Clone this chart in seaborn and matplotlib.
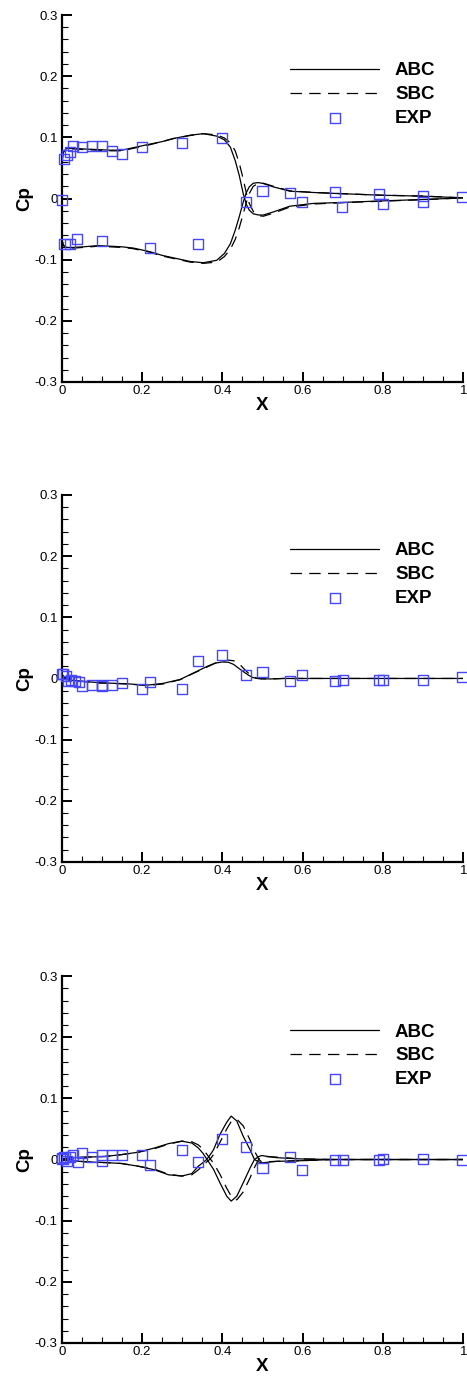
import matplotlib
matplotlib.use("Agg")
import matplotlib.pyplot as plt
from matplotlib.ticker import MultipleLocator
import seaborn as sns

# ---- surface pressure coefficient, three span stations ----
# station 1 (upper and lower surfaces share the x stations)
p1_x = [0, 0.001, 0.004, 0.012, 0.03, 0.054, 0.09, 0.12, 0.15, 0.178, 0.22, 0.25,
        0.278, 0.32, 0.353, 0.386, 0.405, 0.42, 0.432, 0.442, 0.452, 0.46, 0.467,
        0.477, 0.49, 0.502, 0.527, 0.568, 0.627, 0.693, 0.793, 0.9, 1.0]
p1_up_abc = [0, 0.063, 0.076, 0.082, 0.082, 0.081, 0.080, 0.079, 0.079, 0.083, 0.089, 0.093,
             0.098, 0.1035, 0.106, 0.102, 0.096, 0.084, 0.062, 0.038, 0.008, -0.010, -0.019,
             -0.025, -0.027, -0.027, -0.022, -0.0126, -0.008, -0.0066, -0.004, -0.0016, 0.001]
p1_up_sbc = [0, 0.062, 0.075, 0.081, 0.081, 0.080, 0.079, 0.078, 0.078, 0.082, 0.088, 0.093,
             0.098, 0.103, 0.106, 0.104, 0.099, 0.091, 0.078, 0.058, 0.032, 0.008, -0.008,
             -0.021, -0.028, -0.029, -0.024, -0.014, -0.009, -0.007, -0.0045, -0.002, 0.001]
p1_lo_abc = [0, -0.068, -0.076, -0.080, -0.080, -0.079, -0.077, -0.078, -0.079, -0.081, -0.087, -0.093,
             -0.097, -0.103, -0.105, -0.101, -0.090, -0.074, -0.052, -0.030, -0.006, 0.010, 0.019,
             0.025, 0.026, 0.0245, 0.019, 0.012, 0.0098, 0.008, 0.0054, 0.0038, 0.001]
p1_lo_sbc = [0, -0.068, -0.077, -0.081, -0.081, -0.080, -0.078, -0.079, -0.080, -0.082, -0.088, -0.094,
             -0.098, -0.104, -0.106, -0.104, -0.095, -0.083, -0.067, -0.048, -0.025, -0.006, 0.008,
             0.020, 0.025, 0.025, 0.020, 0.0125, 0.010, 0.008, 0.0055, 0.004, 0.001]
p1_exp_x = [0.0, 0.006, 0.012, 0.021, 0.027, 0.05, 0.075, 0.10, 0.125, 0.149, 0.199, 0.299, 0.399,
            0.007, 0.021, 0.039, 0.10, 0.219, 0.339, 0.459, 0.50, 0.569, 0.599, 0.68, 0.699,
            0.789, 0.80, 0.9, 0.9, 0.998]
p1_exp_y = [-0.003, 0.064, 0.071, 0.076, 0.086, 0.084, 0.086, 0.086, 0.078, 0.073, 0.084, 0.091, 0.099,
            -0.075, -0.075, -0.067, -0.069, -0.081, -0.074, -0.006, 0.012, 0.009, -0.006, 0.010, -0.014,
            0.007, -0.009, 0.004, -0.005, 0.002]

# station 2 (both surfaces coincide)
p2_x = [0, 0.004, 0.012, 0.025, 0.046, 0.095, 0.162, 0.212, 0.253, 0.295, 0.33, 0.363, 0.382,
        0.4, 0.415, 0.428, 0.442, 0.455, 0.466, 0.476, 0.486, 0.496, 0.52, 0.552, 0.7, 0.85, 1.0]
p2_abc = [0.0065, 0.004, -0.0016, -0.003, -0.0043, -0.007, -0.0087, -0.011, -0.008, -0.0016, 0.0095, 0.020,
          0.025, 0.027, 0.0265, 0.023, 0.016, 0.010, 0.005, 0.0015, 0.0, -0.0005, -0.0008, 0, 0, 0, 0]
p2_sbc = [0.0065, 0.004, -0.0016, -0.003, -0.0045, -0.0075, -0.009, -0.0115, -0.009, -0.002, 0.009, 0.019,
          0.025, 0.028, 0.030, 0.029, 0.024, 0.015, 0.008, 0.003, 0.0005, -0.0005, -0.0008, 0, 0, 0, 0]
p2_exp_x = [0.0, 0.004, 0.01, 0.015, 0.022, 0.033, 0.043, 0.05, 0.075, 0.10, 0.10, 0.125, 0.149,
            0.199, 0.22, 0.299, 0.339, 0.40, 0.459, 0.50, 0.569, 0.599, 0.68, 0.70, 0.79, 0.80,
            0.9, 0.998]
p2_exp_y = [0.0065, 0.008, 0.004, -0.004, -0.002, -0.004, -0.006, -0.013, -0.01, -0.011, -0.013, -0.011,
            -0.007, -0.017, -0.006, -0.017, 0.028, 0.039, 0.005, 0.011, -0.004, 0.005, -0.004, -0.003,
            -0.002, -0.002, -0.002, 0.002]

# station 3
p3_x = [0, 0.025, 0.066, 0.108, 0.149, 0.191, 0.232, 0.266, 0.299, 0.324, 0.34, 0.352, 0.361,
        0.37, 0.378, 0.394, 0.411, 0.422, 0.436, 0.452, 0.469, 0.48, 0.491, 0.498, 0.535,
        0.593, 0.676, 0.8, 0.9, 1.0]
p3_up_abc = [0.001, 0.003, 0.004, 0.005, 0.008, 0.012, 0.019, 0.026, 0.030, 0.027, 0.019, 0.010, 0.001,
             -0.008, -0.016, -0.038, -0.060, -0.068, -0.060, -0.038, -0.014, 0.0, 0.005, 0.0065, 0.003,
             0.001, 0, 0, 0, 0]
p3_up_sbc = [0.001, 0.003, 0.004, 0.005, 0.008, 0.012, 0.018, 0.025, 0.030, 0.029, 0.024, 0.017, 0.009,
             0.001, -0.006, -0.024, -0.047, -0.060, -0.066, -0.053, -0.030, -0.013, 0.001, 0.005, 0.004,
             0.001, 0, 0, 0, 0]
p3_lo_abc = [-0.001, -0.002, -0.004, -0.005, -0.0065, -0.011, -0.017, -0.025, -0.027, -0.023, -0.011, -0.005, 0.0,
             0.008, 0.016, 0.041, 0.061, 0.071, 0.063, 0.038, 0.016, 0.0, -0.004, -0.0055, -0.003,
             -0.002, 0, 0, 0, 0]
p3_lo_sbc = [-0.001, -0.002, -0.004, -0.005, -0.0065, -0.011, -0.016, -0.024, -0.027, -0.025, -0.017, -0.010, -0.004,
             0.001, 0.008, 0.028, 0.050, 0.062, 0.066, 0.055, 0.032, 0.014, 0.0, -0.004, -0.003,
             -0.002, 0, 0, 0, 0]
p3_exp_x = [0.0, 0.002, 0.007, 0.012, 0.021, 0.029, 0.04, 0.05, 0.075, 0.1, 0.1, 0.125, 0.149,
            0.199, 0.22, 0.299, 0.34, 0.398, 0.46, 0.5, 0.568, 0.599, 0.68, 0.70, 0.79, 0.8,
            0.9, 0.998]
p3_exp_y = [0.003, 0.001, 0.004, -0.003, 0.004, 0.007, -0.004, 0.011, 0.004, 0.007, -0.003, 0.007, 0.008,
            0.008, -0.009, 0.016, -0.004, 0.034, 0.020, -0.014, 0.004, -0.017, -0.001, 0.0,
            0.0, 0.001, 0.001, 0.0]

series_labels = ["ABC", "SBC", "EXP"]
xtick_vals = [0, 0.2, 0.4, 0.6, 0.8, 1.0]
xtick_labels = ["0", "0.2", "0.4", "0.6", "0.8", "1"]
ytick_vals = [-0.3, -0.2, -0.1, 0, 0.1, 0.2, 0.3]
ytick_labels = ["-0.3", "-0.2", "-0.1", "0", "0.1", "0.2", "0.3"]

sns.set_theme(style="ticks")
plt.rcParams["font.family"] = ["Liberation Sans", "DejaVu Sans"]
plt.rcParams["lines.scale_dashes"] = False
plt.rcParams["text.color"] = "black"
plt.rcParams["axes.labelcolor"] = "black"
plt.rcParams["xtick.color"] = "black"
plt.rcParams["ytick.color"] = "black"
plt.rcParams["legend.labelcolor"] = "black"

EXP_BLUE = "#4646ff"
DASH = (0, (8.2, 5.3))
LW = 0.9

fig = plt.figure(figsize=(4.67, 13.78), dpi=100)
panel_bottoms = [0.7228, 0.3745, 0.0254]

panels = [
    (p1_x, [p1_up_abc, p1_lo_abc], [p1_up_sbc, p1_lo_sbc], p1_exp_x, p1_exp_y),
    (p2_x, [p2_abc], [p2_sbc], p2_exp_x, p2_exp_y),
    (p3_x, [p3_up_abc, p3_lo_abc], [p3_up_sbc, p3_lo_sbc], p3_exp_x, p3_exp_y),
]

for bottom, (xs, abc_set, sbc_set, ex, ey) in zip(panel_bottoms, panels):
    ax = fig.add_axes([0.1321, bottom, 0.860, 0.2663])
    ax.set_facecolor("white")

    for ys in abc_set:
        sns.lineplot(x=xs, y=ys, ax=ax, color="black", linewidth=LW,
                     estimator=None, sort=False, legend=False)
    for ys in sbc_set:
        sns.lineplot(x=xs, y=ys, ax=ax, color="black", linewidth=LW, linestyle=DASH,
                     estimator=None, sort=False, legend=False)
    sns.scatterplot(x=ex, y=ey, ax=ax, marker="s", s=52, facecolor="none",
                    edgecolor=EXP_BLUE, linewidth=1.0, clip_on=False, zorder=4,
                    legend=False)

    ax.set_xlim(0, 1)
    ax.set_ylim(-0.3, 0.3)
    ax.set_xticks(xtick_vals, labels=xtick_labels)
    ax.set_yticks(ytick_vals, labels=ytick_labels)
    ax.xaxis.set_minor_locator(MultipleLocator(0.05))
    ax.yaxis.set_minor_locator(MultipleLocator(0.02))
    ax.tick_params(which="major", direction="in", length=7, width=1.4,
                   labelsize=9.5, colors="black")
    ax.tick_params(which="minor", direction="in", length=4.5, width=0.8, colors="black")
    ax.tick_params(axis="x", which="major", pad=2)
    ax.tick_params(axis="y", which="major", pad=3)

    for side in ("top", "right"):
        ax.spines[side].set_visible(False)
    for side in ("left", "bottom"):
        ax.spines[side].set_linewidth(1.6)
        ax.spines[side].set_color("black")

    ax.set_xlabel("X", fontsize=13.5, fontweight="bold", color="black")
    ax.set_ylabel("Cp", fontsize=13.5, fontweight="bold", color="black")
    ax.xaxis.set_label_coords(0.5, -0.041)
    ax.yaxis.set_label_coords(-0.070, 0.5)

    handles = [ax.lines[0], ax.lines[len(abc_set)], ax.collections[0]]
    leg = ax.legend(handles, series_labels, loc="upper left", bbox_to_anchor=(0.5685, 0.871),
                    frameon=False, borderpad=0, borderaxespad=0, handlelength=4.75,
                    handletextpad=0.85, labelspacing=0.36, scatterpoints=1,
                    prop={"weight": "bold", "size": 13.5})
    for t in leg.get_texts():
        t.set_color("black")

fig.savefig("out.png", dpi=100, facecolor="white")
